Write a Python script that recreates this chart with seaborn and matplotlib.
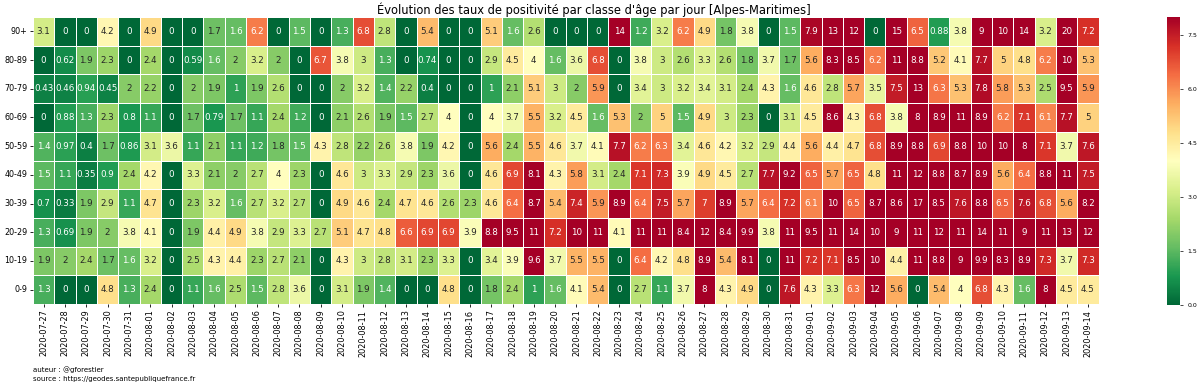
import numpy as np
import pandas as pd
import matplotlib
matplotlib.use("Agg")
import matplotlib.pyplot as plt
import seaborn as sns

dates = pd.date_range("2020-07-27", "2020-09-14").strftime("%Y-%m-%d").tolist()
age_classes = ["90+", "80-89", "70-79", "60-69", "50-59", "40-49", "30-39", "20-29", "10-19", "0-9"]

r90 = [3.1,0,0,4.2,0,4.9,0,0,1.7,1.6,6.2, 0,1.5,0,1.3,6.8,2.8,0,5.4,0,0,
       5.1,1.6,2.6,0,0,0,14,1.2,3.2,6.2, 4.9,1.8,3.8,0,1.5,7.9,13,12,0,
       15,6.5,0.88,3.8,9,10,14,3.2,20,7.2]
r80 = [0,0.62,1.9,2.3,0,2.4,0,0.59,1.6,2,3.2, 2,0,6.7,3.8,3,1.3,0,0.74,0,0,
       2.9,4.5,4,1.6,3.6,6.8,0,3.8,3,2.6, 3.3,2.6,1.8,3.7,1.7,5.6,8.3,8.5,6.2,
       11,8.8,5.2,4.1,7.7,5,4.8,6.2,10,5.3]
r70 = [0.43,0.46,0.94,0.45,2,2.2,0,2,1.9,1,1.9, 2.6,0,0,2,3.2,1.4,2.2,0.4,0,0,
       1,2.1,5.1,3,2,5.9,0,3.4,3,3.2, 3.4,3.1,2.4,4.3,1.6,4.6,2.8,5.7,3.5,
       7.5,13,6.3,5.3,7.8,5.8,5.3,2.5,9.5,5.9]
r60 = [0,0.88,1.3,2.3,0.8,1.1,0,1.7,0.79,1.7,1.1, 2.4,1.2,0,2.1,2.6,1.9,1.5,2.7,4,0,
       4,3.7,5.5,3.2,4.5,1.6,5.3,2,5,1.5, 4.9,3,2.3,0,3.1,4.5,8.6,4.3,6.8,
       3.8,8,8.9,11,8.9,6.2,7.1,6.1,7.7,5]
r50 = [1.4,0.97,0.4,1.7,0.86,3.1,3.6,1.1,2.1,1.1,1.2, 1.8,1.5,4.3,2.8,2.2,2.6,3.8,1.9,4.2,0,
       5.6,2.4,5.5,4.6,3.7,4.1,7.7,6.2,6.3,3.4, 4.6,4.2,3.2,2.9,4.4,5.6,4.4,4.7,6.8,
       8.9,8.8,6.9,8.8,10,10,8,7.1,3.7,7.6]
r40 = [1.5,1.1,0.35,0.9,2.4,4.2,0,3.3,2.1,2,2.7, 4,2.3,0,4.6,3,3.3,2.9,2.3,3.6,0,
       4.6,6.9,8.1,4.3,5.8,3.1,2.4,7.1,7.3,3.9, 4.9,4.5,2.7,7.7,9.2,6.5,5.7,6.5,4.8,
       11,12,8.8,8.7,8.9,5.6,6.4,8.8,11,7.5]
r30 = [0.7,0.33,1.9,2.9,1.1,4.7,0,2.3,3.2,1.6,2.7, 3.2,2.7,0,4.9,4.6,2.4,4.7,4.6,2.6,2.3,
       4.6,6.4,8.7,5.4,7.4,5.9,8.9,6.4,7.5,5.7, 7,8.9,5.7,6.4,7.2,6.1,10,6.5,8.7,
       8.6,17,8.5,7.6,8.8,6.5,7.6,6.8,5.6,8.2]
r20 = [1.3,0.69,1.9,2,3.8,4.1,0,1.9,4.4,4.9,3.8, 2.9,3.3,2.7,5.1,4.7,4.8,6.6,6.9,6.9,3.9,
       8.8,9.5,11,7.2,10,11,4.1,11,11,8.4, 12,8.4,9.9,3.8,11,9.5,11,14,10,
       9,11,12,11,14,11,9,11,13,12]
r10 = [1.9,2,2.4,1.7,1.6,3.2,0,2.5,4.3,4.4,2.3, 2.7,2.1,0,4.3,3,2.8,3.1,2.3,3.3,0,
       3.4,3.9,9.6,3.7,5.5,5.5,0,6.4,4.2,4.8, 8.9,5.4,8.1,0,11,7.2,7.1,8.5,10,
       4.4,11,8.8,9,9.9,8.3,8.9,7.3,3.7,7.3]
r0 = [1.3,0,0,4.8,1.3,2.4,0,1.1,1.6,2.5,1.5, 2.8,3.6,0,3.1,1.9,1.4,0,0,4.8,0,
      1.8,2.4,1,1.6,4.1,5.4,0,2.7,1.1,3.7, 8,4.3,4.9,0,7.6,4.3,3.3,6.3,12,
      5.6,0,5.4,4,6.8,4.3,1.6,8,4.5,4.5]

cbar_ticks = [0.0, 1.5, 3.0, 4.5, 6.0, 7.5]

df = pd.DataFrame([r90, r80, r70, r60, r50, r40, r30, r20, r10, r0],
                  index=age_classes, columns=dates)

fig = plt.figure(figsize=(12, 3.86), dpi=100)
ax = fig.add_axes([0.0275, 0.2124, 0.888, 0.7435])
cax = fig.add_axes([0.9725, 0.2098, 0.011, 0.746])

sns.heatmap(df, ax=ax, cbar_ax=cax, cmap="RdYlGn_r", vmin=0, vmax=8,
            annot=True, fmt=".2g", annot_kws={"size": 6.3},
            linewidths=0.5, linecolor="white",
            cbar_kws={"ticks": cbar_ticks, "format": "%.1f"})

ax.set_title("Évolution des taux de positivité par classe d'âge par jour [Alpes-Maritimes]",
             fontsize=8.3, pad=2.5, x=0.526)
ax.set_xticks(np.arange(len(dates)) + 0.5)
ax.set_xticklabels(dates, rotation=90, fontsize=5.9)
ax.set_yticklabels(age_classes, rotation=0, fontsize=5.8)
ax.tick_params(length=2.5, width=0.6, pad=1.5)
ax.set_xlabel("")
ax.set_ylabel("")
cax.tick_params(labelsize=4.5, length=2, width=0.5)
for sp in cax.spines.values():
    sp.set_visible(False)

fig.text(0.0275, 1 - 370 / 386, "auteur : @gforestier", fontsize=5.0, va="center")
fig.text(0.0275, 1 - 379 / 386, "source : https://geodes.santepubliquefrance.fr", fontsize=5.0, va="center")

fig.savefig("out.png", dpi=100)
